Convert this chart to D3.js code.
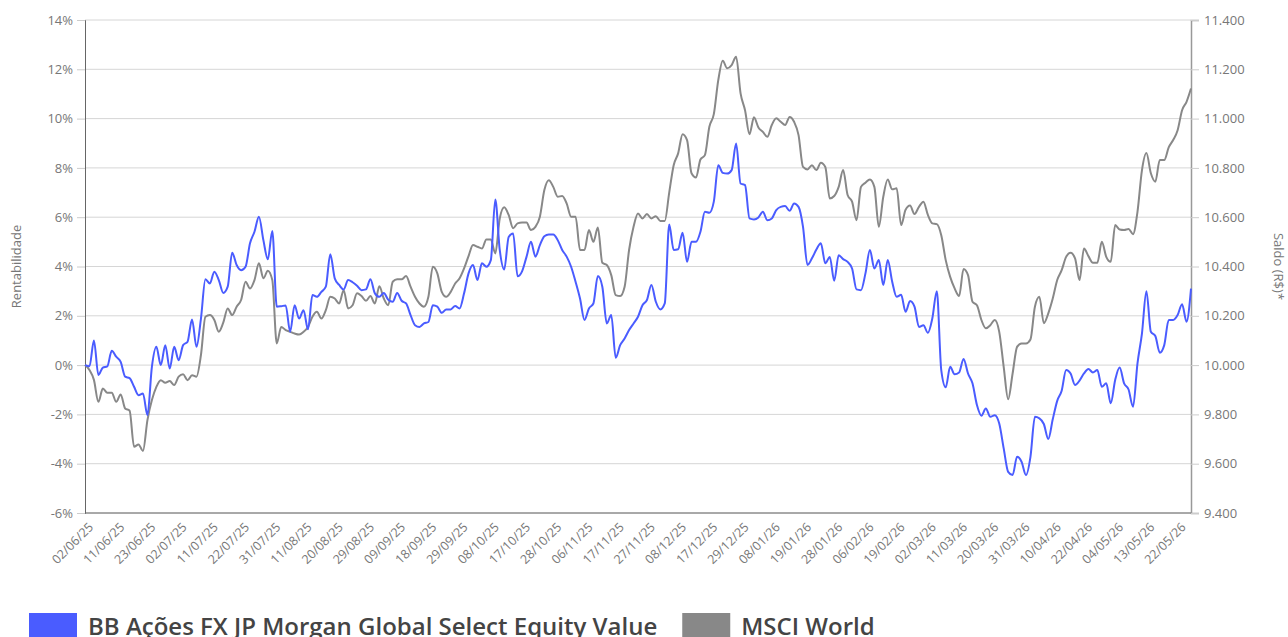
<!DOCTYPE html>
<html>
<head>
<meta charset="utf-8">
<script src="https://cdn.jsdelivr.net/npm/d3@7"></script>
<style>
  html, body { margin: 0; padding: 0; background: #fff; overflow: hidden; }
  #canvas text { font-family: "Open Sans", sans-serif; }
</style>
</head>
<body>
<div id="canvas"></div>
<script>
// tick labels on the x axis (one every 7 trading days)
const dateLabels = ['02/06/25','11/06/25','23/06/25','02/07/25','11/07/25','22/07/25','31/07/25','11/08/25',
  '20/08/25','29/08/25','09/09/25','18/09/25','29/09/25','08/10/25','17/10/25','28/10/25','06/11/25',
  '17/11/25','27/11/25','08/12/25','17/12/25','29/12/25','08/01/26','19/01/26','28/01/26','06/02/26',
  '19/02/26','02/03/26','11/03/26','20/03/26','31/03/26','10/04/26','22/04/26','04/05/26','13/05/26','22/05/26'];
const labelStep = 7;

// BB Ações FX JP Morgan Global Select Equity Value (% return)
const fund = [
  0, -0.05, 1.0, -0.4, -0.1, -0.05, 0.58, 0.34, 0.13, -0.47,
  -0.53, -0.88, -1.22, -1.15, -2.03, -0.07, 0.74, 0.0, 0.81, -0.14,
  0.74, 0.2, 0.81, 0.95, 1.85, 0.74, 1.89, 3.48, 3.31, 3.79,
  3.45, 2.93, 3.18, 4.56, 4.06, 3.85, 3.99, 4.94, 5.41, 6.02,
  5.07, 4.29, 5.44, 2.37, 2.39, 2.42, 1.35, 2.43, 1.89, 2.23,
  1.45, 2.84, 2.77, 2.97, 3.18, 4.5, 3.52, 3.25, 3.07, 3.45,
  3.36, 3.22, 3.04, 3.07, 3.48, 2.91, 2.77, 2.93, 2.65, 2.57,
  2.93, 2.61, 2.5, 2.03, 1.62, 1.55, 1.69, 1.75, 2.43, 2.37,
  2.12, 2.26, 2.26, 2.4, 2.3, 2.91, 3.72, 4.06, 3.45, 4.13,
  3.99, 4.26, 6.72, 4.67, 3.88, 5.2, 5.34, 3.6, 3.8, 4.39,
  5.0, 4.4, 4.87, 5.23, 5.3, 5.3, 5.07, 4.67, 4.4, 3.99,
  3.38, 2.7, 1.83, 2.3, 2.5, 3.61, 3.18, 1.69, 2.03, 0.3,
  0.81, 1.08, 1.42, 1.69, 1.96, 2.43, 2.64, 3.25, 2.57, 2.26,
  2.5, 5.7, 4.67, 4.7, 5.37, 4.19, 5.0, 5.0, 5.41, 6.22,
  6.18, 6.63, 8.11, 7.8, 7.77, 7.91, 8.99, 7.37, 7.3, 5.95,
  5.91, 5.99, 6.22, 5.88, 5.95, 6.29, 6.42, 6.45, 6.26, 6.56,
  6.42, 5.61, 4.06, 4.33, 4.69, 4.94, 4.13, 4.39, 3.42, 4.46,
  4.3, 4.19, 3.92, 3.07, 3.04, 3.72, 4.67, 3.92, 4.26, 3.25,
  4.26, 3.38, 2.77, 2.85, 2.16, 2.6, 2.37, 1.55, 1.62, 1.31,
  1.9, 3.0, -0.2, -0.9, -0.07, -0.37, -0.3, 0.25, -0.34, -0.74,
  -1.62, -2.05, -1.76, -2.1, -2.03, -2.37, -3.38, -4.33, -4.46, -3.72,
  -3.92, -4.46, -3.72, -2.1, -2.16, -2.39, -3.0, -2.2, -1.45, -1.04,
  -0.2, -0.34, -0.81, -0.63, -0.34, -0.16, -0.3, -0.2, -0.88, -0.74,
  -1.55, -0.6, -0.1, -0.74, -0.99, -1.69, 0.07, 1.28, 3.0, 1.35,
  1.18, 0.5, 0.81, 1.83, 1.83, 2.03, 2.47, 1.76, 3.1
];

// MSCI World (% return)
const msci = [
  0, -0.2, -0.6, -1.49, -0.95, -1.12, -1.12, -1.49, -1.19, -1.76,
  -1.85, -3.31, -3.22, -3.48, -2.23, -1.42, -0.88, -0.61, -0.72, -0.65,
  -0.81, -0.47, -0.37, -0.61, -0.41, -0.47, 0.41, 1.96, 2.03, 1.83,
  1.35, 1.72, 2.3, 2.03, 2.37, 2.64, 3.38, 3.11, 3.45, 4.13,
  3.52, 3.83, 3.45, 0.88, 1.55, 1.42, 1.35, 1.28, 1.24, 1.35,
  1.55, 1.96, 2.16, 1.89, 2.23, 2.77, 2.7, 2.5, 3.04, 2.3,
  2.43, 2.91, 2.8, 2.61, 2.8, 2.5, 3.2, 2.7, 2.43, 3.38,
  3.48, 3.48, 3.61, 3.18, 2.77, 2.5, 2.37, 2.77, 3.99, 3.72,
  2.97, 2.77, 2.97, 3.31, 3.52, 3.92, 4.42, 4.87, 4.8, 4.73,
  5.1, 5.1, 4.53, 5.95, 6.4, 6.09, 5.55, 5.75, 5.78, 5.78,
  5.48, 5.61, 6.02, 7.1, 7.5, 7.23, 6.83, 6.86, 6.56, 6.02,
  6.02, 4.67, 4.67, 5.48, 5.0, 5.58, 4.15, 4.06, 3.65, 2.84,
  2.8, 3.18, 4.67, 5.61, 6.15, 5.95, 6.13, 5.95, 6.04, 5.85,
  5.85, 7.0, 8.11, 8.59, 9.37, 9.13, 7.78, 7.61, 8.34, 8.52,
  9.67, 10.18, 11.56, 12.35, 12.04, 12.17, 12.51, 11.02, 10.34, 9.37,
  10.05, 9.64, 9.46, 9.26, 9.74, 10.01, 9.87, 9.74, 10.07, 9.87,
  9.33, 8.04, 7.94, 8.11, 7.91, 8.21, 8.04, 6.76, 6.86, 7.23,
  7.91, 6.9, 6.63, 5.88, 7.23, 7.4, 7.53, 7.23, 5.61, 6.83,
  7.53, 7.13, 7.17, 5.68, 6.3, 6.47, 6.13, 6.42, 6.63, 6.09,
  5.75, 5.72, 5.27, 4.26, 3.58, 3.11, 2.8, 3.9, 3.65, 2.57,
  2.43, 1.83, 1.49, 1.62, 1.83, 1.35, -0.07, -1.39, -0.34, 0.74,
  0.88, 0.88, 1.04, 2.37, 2.77, 1.7, 2.1, 2.7, 3.45, 3.85,
  4.39, 4.56, 4.33, 3.45, 4.73, 4.42, 4.15, 4.15, 5.0, 4.39,
  4.19, 5.68, 5.5, 5.48, 5.52, 5.31, 6.22, 7.9, 8.6, 7.78,
  7.44, 8.32, 8.32, 8.83, 9.13, 9.53, 10.34, 10.68, 11.22
];

// axis ticks
const leftTicks = [-6, -4, -2, 0, 2, 4, 6, 8, 10, 12, 14];
const rightTicks = [9400, 9600, 9800, 10000, 10200, 10400, 10600, 10800, 11000, 11200, 11400];
const initialBalance = 10000;

const seriesNames = ['BB Ações FX JP Morgan Global Select Equity Value', 'MSCI World'];
const seriesColors = ['#4a5cff', '#888888'];

const width = 1288, height = 637;
const margin = { top: 20, right: 97, bottom: 124, left: 85 };
const graphWidth = width - margin.left - margin.right;
const graphHeight = height - margin.top - margin.bottom;

const svg = d3.select('#canvas')
  .append('svg')
  .attr('width', width)
  .attr('height', height);

const graph = svg.append('g')
  .attr('transform', `translate(${margin.left}, ${margin.top})`);

// scales
const x = d3.scaleLinear().domain([0, fund.length - 1]).range([0, graphWidth]);
const y = d3.scaleLinear().domain([-6, 14]).range([graphHeight, 0]);
const y2 = d3.scaleLinear()
  .domain([initialBalance * (1 - 6 / 100), initialBalance * (1 + 14 / 100)])
  .range([graphHeight, 0]);

const ptBR = d3.formatLocale({ decimal: ',', thousands: '.', grouping: [3], currency: ['R$', ''] });

// grid lines
graph.append('g')
  .selectAll('line')
  .data(leftTicks)
  .enter().append('line')
    .attr('x1', 0)
    .attr('x2', graphWidth)
    .attr('y1', d => y(d))
    .attr('y2', d => y(d))
    .attr('stroke', '#d6d6d6')
    .attr('stroke-width', 1);

// left axis
const yAxisGroup = graph.append('g')
  .call(d3.axisLeft(y).tickValues(leftTicks).tickSize(8).tickPadding(4).tickFormat(d => d + '%'));
yAxisGroup.select('.domain').attr('stroke', '#666');
yAxisGroup.selectAll('.tick line').attr('stroke', '#ccc');
yAxisGroup.selectAll('text')
  .attr('fill', '#777')
  .style('font-size', '13px');

// right axis
const y2AxisGroup = graph.append('g')
  .attr('transform', `translate(${graphWidth}, 0)`)
  .call(d3.axisRight(y2).tickValues(rightTicks).tickSize(8).tickPadding(5).tickFormat(ptBR.format(',.0f')));
y2AxisGroup.select('.domain').attr('stroke', '#999').attr('stroke-width', 1.5);
y2AxisGroup.selectAll('.tick line').attr('stroke', '#ccc');
y2AxisGroup.selectAll('text')
  .attr('fill', '#777')
  .style('font-size', '13px');

// bottom axis line
graph.append('line')
  .attr('x1', 0).attr('x2', graphWidth)
  .attr('y1', graphHeight).attr('y2', graphHeight)
  .attr('stroke', '#666');

// x labels
graph.append('g')
  .selectAll('text')
  .data(dateLabels)
  .enter().append('text')
    .attr('transform', (d, i) => `translate(${x(i * labelStep) + 9}, ${graphHeight + 15}) rotate(-45)`)
    .attr('text-anchor', 'end')
    .attr('fill', '#777')
    .style('font-size', '12.5px')
    .text(d => d);

// axis titles
svg.append('text')
  .attr('transform', `translate(21, ${margin.top + graphHeight / 2}) rotate(-90)`)
  .attr('text-anchor', 'middle')
  .attr('fill', '#777')
  .style('font-size', '13px')
  .text('Rentabilidade');

svg.append('text')
  .attr('transform', `translate(1274, ${margin.top + graphHeight / 2}) rotate(90)`)
  .attr('text-anchor', 'middle')
  .attr('fill', '#777')
  .style('font-size', '13px')
  .text('Saldo (R$)*');

// lines
const line = d3.line()
  .curve(d3.curveMonotoneX)
  .x((d, i) => x(i))
  .y(d => y(d));

graph.append('path')
  .datum(msci)
  .attr('fill', 'none')
  .attr('stroke', seriesColors[1])
  .attr('stroke-width', 2)
  .attr('d', line);

graph.append('path')
  .datum(fund)
  .attr('fill', 'none')
  .attr('stroke', seriesColors[0])
  .attr('stroke-width', 2)
  .attr('d', line);

// legend (sits at the bottom edge, as in the original)
const legend = svg.append('g').attr('transform', 'translate(29, 613)');
let lx = 0;
seriesNames.forEach((name, i) => {
  const item = legend.append('g').attr('transform', `translate(${lx}, 0)`);
  item.append('rect')
    .attr('width', 48).attr('height', 30)
    .attr('fill', seriesColors[i]);
  const t = item.append('text')
    .attr('x', 59).attr('y', 22)
    .attr('fill', '#444')
    .style('font-size', '24px')
    .style('font-weight', 600)
    .text(name);
  lx += 59 + t.node().getComputedTextLength() + 25;
});
</script>
</body>
</html>
